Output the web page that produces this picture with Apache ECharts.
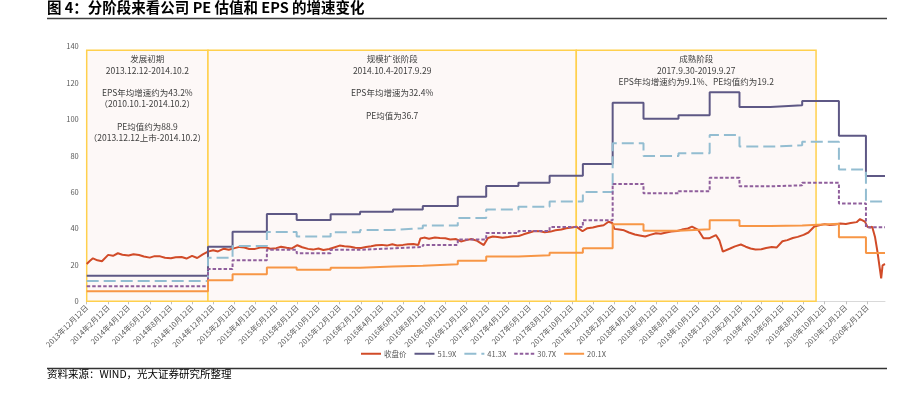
<!DOCTYPE html>
<html>
<head>
<meta charset="utf-8">
<script src="https://cdn.jsdelivr.net/npm/echarts@6/dist/echarts.min.js"></script>
<style>
  html, body { margin: 0; padding: 0; background: #fff; }
  #chart { width: 901px; height: 397px; }
</style>
</head>
<body>
<div id="chart"></div>
<script>
// x 轴刻度（每两个月的 12 日）
const tickDates = [
  '2013-12-12', '2014-02-12', '2014-04-12', '2014-06-12', '2014-08-12', '2014-10-12',
  '2014-12-12', '2015-02-12', '2015-04-12', '2015-06-12', '2015-08-12', '2015-10-12',
  '2015-12-12', '2016-02-12', '2016-04-12', '2016-06-12', '2016-08-12', '2016-10-12',
  '2016-12-12', '2017-02-12', '2017-04-12', '2017-06-12', '2017-08-12', '2017-10-12',
  '2017-12-12', '2018-02-12', '2018-04-12', '2018-06-12', '2018-08-12', '2018-10-12',
  '2018-12-12', '2019-02-12', '2019-04-12', '2019-06-12', '2019-08-12', '2019-10-12',
  '2019-12-12', '2020-02-12'
];

// 收盘价
const priceDates = [
  '2013-12-12', '2013-12-20', '2013-12-30', '2014-01-12', '2014-01-25', '2014-02-12',
  '2014-02-26', '2014-03-12', '2014-03-25', '2014-04-12', '2014-04-26', '2014-05-12',
  '2014-05-26', '2014-06-12', '2014-06-26', '2014-07-12', '2014-07-26', '2014-08-12',
  '2014-08-26', '2014-09-12', '2014-09-26', '2014-10-12', '2014-10-27', '2014-11-12',
  '2014-11-27', '2014-12-12', '2014-12-26', '2015-01-12', '2015-01-26', '2015-02-12',
  '2015-02-26', '2015-03-12', '2015-03-26', '2015-04-12', '2015-04-26', '2015-05-12',
  '2015-05-26', '2015-06-12', '2015-06-26', '2015-07-12', '2015-07-26', '2015-08-12',
  '2015-08-26', '2015-09-12', '2015-09-26', '2015-10-12', '2015-10-26', '2015-11-12',
  '2015-11-26', '2015-12-12', '2015-12-26', '2016-01-12', '2016-01-26', '2016-02-12',
  '2016-02-26', '2016-03-12', '2016-03-26', '2016-04-12', '2016-04-26', '2016-05-12',
  '2016-05-26', '2016-06-12', '2016-06-26', '2016-07-12', '2016-07-26', '2016-08-01',
  '2016-08-12', '2016-08-26', '2016-09-12', '2016-09-26', '2016-10-12', '2016-10-26',
  '2016-11-12', '2016-11-26', '2016-12-12', '2016-12-26', '2017-01-12', '2017-01-31',
  '2017-02-12', '2017-02-26', '2017-03-12', '2017-03-26', '2017-04-12', '2017-04-26',
  '2017-05-12', '2017-05-26', '2017-06-12', '2017-06-26', '2017-07-12', '2017-07-26',
  '2017-08-12', '2017-08-26', '2017-09-12', '2017-09-26', '2017-10-12', '2017-10-25',
  '2017-11-12', '2017-11-26', '2017-12-12', '2017-12-26', '2018-01-12', '2018-01-26',
  '2018-02-06', '2018-02-12', '2018-02-26', '2018-03-12', '2018-03-26', '2018-04-12',
  '2018-04-26', '2018-05-12', '2018-05-26', '2018-06-12', '2018-06-26', '2018-07-12',
  '2018-07-26', '2018-08-12', '2018-08-26', '2018-09-12', '2018-09-24', '2018-10-12',
  '2018-10-27', '2018-11-12', '2018-12-02', '2018-12-12', '2018-12-22', '2019-01-12',
  '2019-01-26', '2019-02-12', '2019-02-26', '2019-03-12', '2019-03-26', '2019-04-12',
  '2019-04-26', '2019-05-12', '2019-05-26', '2019-06-12', '2019-06-26', '2019-07-12',
  '2019-07-26', '2019-08-12', '2019-08-26', '2019-09-12', '2019-09-26', '2019-10-12',
  '2019-10-26', '2019-11-12', '2019-11-26', '2019-12-12', '2019-12-26', '2020-01-12',
  '2020-01-22', '2020-02-05', '2020-02-12', '2020-02-20', '2020-02-26', '2020-03-05',
  '2020-03-12', '2020-03-19', '2020-03-23', '2020-03-27', '2020-03-31', '2020-04-03'
];
const priceValues = [
  20.5, 22.0, 23.6, 22.5, 22.0, 25.5,
  25.0, 26.4, 25.6, 25.2, 25.9, 25.4,
  24.6, 24.0, 24.8, 24.7, 23.9, 23.6,
  24.2, 24.3, 23.5, 25.0, 23.8, 25.8,
  27.3, 28.0, 27.4, 28.9, 28.3, 29.2,
  29.9, 29.6, 28.7, 28.8, 29.5, 29.7,
  28.9, 29.2, 30.0, 29.4, 29.0, 30.8,
  29.7, 28.8, 28.4, 29.0, 28.2, 28.7,
  29.6, 30.6, 30.2, 30.0, 29.4, 29.3,
  29.8, 30.3, 30.8, 31.0, 30.6, 31.3,
  30.7, 31.0, 31.4, 31.5, 30.9, 34.5,
  35.0, 34.4, 35.1, 34.8, 34.6, 34.0,
  34.2, 32.9, 33.6, 34.2, 33.2, 30.9,
  34.8, 35.6, 35.3, 34.9, 35.3, 35.8,
  35.9, 36.8, 37.8, 38.6, 38.5, 37.9,
  38.3, 39.0, 39.5, 40.1, 40.5, 41.0,
  38.5, 40.2, 40.6, 41.2, 41.8, 43.7,
  43.0, 39.8, 39.4, 39.0, 37.8, 36.7,
  36.2, 35.6, 36.5, 37.4, 37.1, 37.8,
  38.3, 38.6, 39.4, 40.0, 41.0, 39.2,
  34.6, 34.6, 36.4, 33.5, 27.3, 29.0,
  30.2, 31.2, 30.0, 29.0, 28.5, 28.6,
  29.3, 29.8, 29.5, 33.0, 33.6, 34.8,
  35.4, 36.5, 37.8, 41.1, 41.8, 42.4,
  41.9, 42.2, 42.8, 42.5, 43.0, 43.5,
  45.2, 43.8, 41.0, 40.5, 41.0, 35.5,
  27.5, 18.0, 12.6, 19.8, 18.8, 20.5
];

// PE 通道（EPS 变动日）
const stepDates = [
  '2013-12-12', '2014-11-27', '2015-02-06', '2015-05-16', '2015-08-10', '2015-11-16',
  '2016-02-09', '2016-05-14', '2016-08-08', '2016-11-17', '2017-02-07', '2017-05-11',
  '2017-08-09', '2017-11-13', '2018-02-07', '2018-05-07', '2018-08-16', '2018-11-14',
  '2019-02-08', '2019-05-08', '2019-08-08', '2019-11-22', '2020-02-08', '2020-04-03'
];
const pe519 = [14.1, 30.0, 38.2, 47.9, 44.7, 47.8, 49.2, 50.5, 52.4, 57.5, 63.4, 65.2,
  69.0, 75.4, 109.1, 100.3, 102.2, 114.8, 106.8, 107.7, 110.1, 91.0, 68.8, 68.8];
const pe413 = [11.2, 23.9, 30.4, 38.1, 35.6, 38.0, 39.2, 40.2, 41.7, 45.8, 50.5, 51.9,
  54.9, 60.0, 86.8, 79.8, 81.3, 91.4, 85.0, 85.7, 87.6, 72.4, 54.8, 54.8];
const pe307 = [8.3, 17.7, 22.6, 28.3, 26.4, 28.3, 29.1, 29.9, 31.0, 34.0, 37.5, 38.6,
  40.8, 44.6, 64.5, 59.3, 60.5, 67.9, 63.2, 63.7, 65.1, 53.8, 40.7, 40.7];
const pe201 = [5.5, 11.6, 14.8, 18.6, 17.3, 18.5, 19.1, 19.6, 20.3, 22.3, 24.6, 25.3,
  26.7, 29.2, 42.3, 38.8, 39.6, 44.5, 41.4, 41.7, 42.6, 35.2, 26.6, 26.6];

// 阶段框
const stageStart = ['2013-12-12', '2014-11-27', '2017-10-25'];
const stageEnd = ['2014-11-27', '2017-10-25', '2019-09-17'];
const stageText = [
  '发展初期\n2013.12.12-2014.10.2\n\nEPS年均增速约为43.2%\n（2010.10.1-2014.10.2）\n\nPE均值约为88.9\n（2013.12.12上市-2014.10.2）',
  '规模扩张阶段\n2014.10.4-2017.9.29\n\nEPS年均增速为32.4%\n\nPE均值为36.7',
  '成熟阶段\n2017.9.30-2019.9.27\nEPS年均增速约为9.1%、PE均值约为19.2'
];

const FONT = '"Noto Sans CJK SC", "Noto Sans", sans-serif';
const t = s => Date.parse(s + 'T00:00:00Z');
const fmtDate = v => {
  const d = new Date(v);
  return d.getUTCFullYear() + '年' + (d.getUTCMonth() + 1) + '月' + d.getUTCDate() + '日';
};
const pairs = (xs, ys) => xs.map((x, i) => [t(x), ys[i]]);
const ticks = tickDates.map(t);

function stepSeries(name, values, color, type) {
  return {
    name: name,
    type: 'line',
    step: 'end',
    symbol: 'none',
    data: pairs(stepDates, values),
    lineStyle: { color: color, width: 2, type: type },
    itemStyle: { color: color },
    z: 3
  };
}

const option = {
  animation: false,
  textStyle: { fontFamily: FONT },
  grid: { left: 86.7, right: 16, top: 46.5, bottom: 95.7 },
  legend: {
    left: 355,
    top: 345,
    itemWidth: 20,
    itemHeight: 8,
    itemGap: 7,
    itemStyle: { opacity: 0 },
    data: ['收盘价', '51.9X', '41.3X', '30.7X', '20.1X'],
    textStyle: { fontSize: 7.5, color: '#595959', fontFamily: FONT, padding: [0, 0, 0, -2] }
  },
  xAxis: {
    type: 'value',
    min: t('2013-12-12'),
    max: t('2020-04-03'),
    splitLine: { show: false },
    axisLine: { lineStyle: { color: '#D9D9D9', width: 1 } },
    axisTick: { customValues: ticks, length: 3, lineStyle: { color: '#BFBFBF' } },
    axisLabel: {
      customValues: ticks,
      formatter: fmtDate,
      rotate: 45,
      fontSize: 7.5,
      color: '#595959',
      margin: 5,
      fontFamily: FONT
    }
  },
  yAxis: {
    type: 'value',
    min: 0,
    max: 140,
    interval: 20,
    splitLine: { show: false },
    axisLine: { show: false },
    axisTick: { show: false },
    axisLabel: { fontSize: 7.5, color: '#595959', margin: 8, fontFamily: FONT }
  },
  series: [
    {
      name: 'stages',
      type: 'line',
      data: [],
      z: 1,
      markArea: {
        silent: true,
        itemStyle: { color: '#FDF8F7', borderColor: '#FFD04D', borderWidth: 1.5 },
        label: {
          position: 'insideTop',
          distance: 4,
          color: '#404040',
          fontSize: 8.5,
          lineHeight: 11.3,
          align: 'center',
          fontFamily: FONT
        },
        data: stageStart.map((s, i) => [
          { xAxis: t(s), yAxis: 0, name: stageText[i] },
          { xAxis: t(stageEnd[i]), yAxis: 138 }
        ])
      }
    },
    {
      name: '收盘价',
      type: 'line',
      symbol: 'none',
      data: pairs(priceDates, priceValues),
      lineStyle: { color: '#D14B28', width: 2 },
      itemStyle: { color: '#D14B28' },
      z: 3
    },
    stepSeries('51.9X', pe519, '#5E5885', 'solid'),
    stepSeries('41.3X', pe413, '#93BDD1', [12, 5]),
    stepSeries('30.7X', pe307, '#8F5E9C', [3.5, 2]),
    stepSeries('20.1X', pe201, '#F79646', 'solid')
  ],
  graphic: [
    {
      type: 'text', left: 47, top: 0,
      style: { text: '图 4：分阶段来看公司 PE 估值和 EPS 的增速变化', fontSize: 14.5, fontWeight: 'bold', fill: '#000', fontFamily: FONT }
    },
    {
      type: 'line', shape: { x1: 47, y1: 18.5, x2: 887, y2: 18.5 },
      style: { stroke: '#404040', lineWidth: 1.5 }
    },
    {
      type: 'line', shape: { x1: 47, y1: 368.5, x2: 887, y2: 368.5 },
      style: { stroke: '#333', lineWidth: 1.5 }
    },
    {
      type: 'text', left: 47, top: 369,
      style: { text: '资料来源：WIND，光大证券研究所整理', fontSize: 10.5, fill: '#000', fontFamily: FONT }
    }
  ]
};

const myChart = echarts.init(document.getElementById('chart'));
myChart.setOption(option);
</script>
</body>
</html>
